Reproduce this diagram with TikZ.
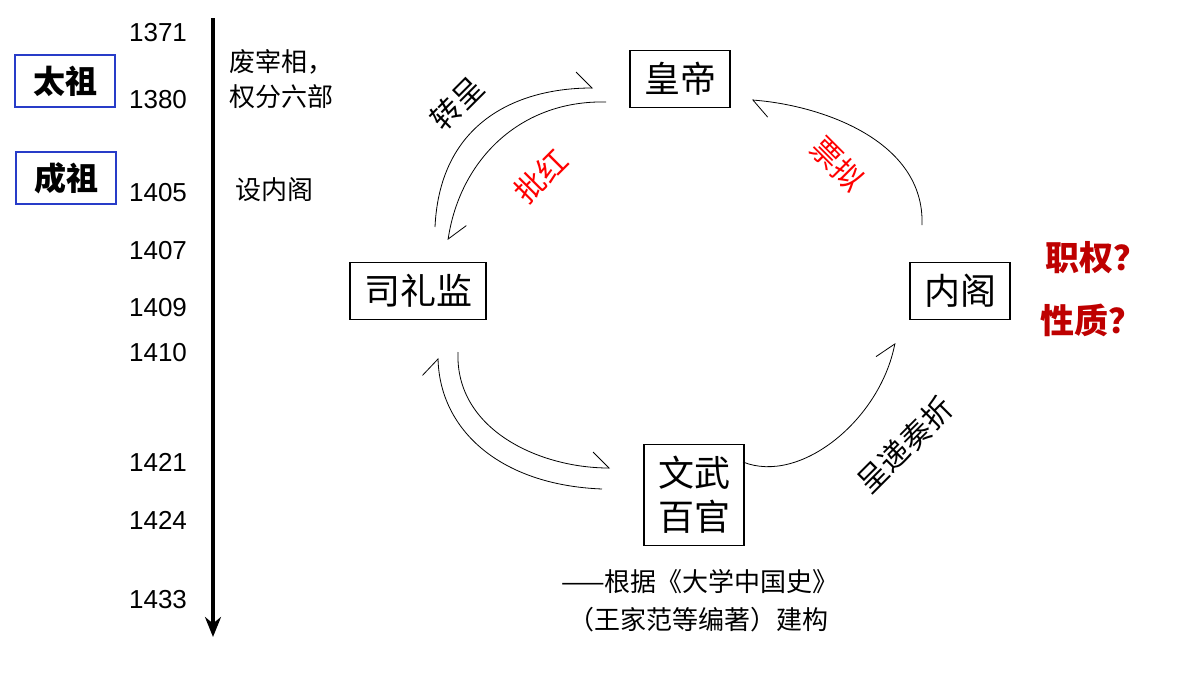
\documentclass[tikz,border=0pt]{standalone}
\usepackage{fontspec}
\setmainfont{Noto Sans CJK SC}
\newfontfamily\numfont{Liberation Sans}
\usetikzlibrary{arrows.meta}
\definecolor{boxblue}{RGB}{40,60,200}
\definecolor{askred}{RGB}{190,0,0}
\tikzset{
  year/.style={anchor=east, font=\numfont\fontsize{13}{13}\selectfont},
  note/.style={anchor=west, font=\fontsize{13}{15}\selectfont},
  ruler/.style={draw=boxblue, line width=1pt, inner sep=4pt, minimum width=50, minimum height=26, font=\bfseries\fontsize{16}{16}\selectfont},
  office/.style={draw, line width=0.6pt, inner xsep=7pt, inner ysep=6pt, font=\fontsize{18}{22}\selectfont, align=center},
  flow/.style={line width=0.4pt, -{Straight Barb[harpoon,length=8pt,width=16pt]}},
  flowr/.style={line width=0.4pt, -{Straight Barb[harpoon,swap,length=8pt,width=16pt]}},
  tag/.style={font=\fontsize{15}{15}\selectfont}
}
\begin{document}
\begin{tikzpicture}[x=0.5pt,y=-0.5pt]
    \useasboundingbox (0,0) rectangle (1200,675);

    % timeline
    \coordinate (top) at (213,18);
    \coordinate (bot) at (213,637);
    \draw[line width=2pt, -{Stealth[length=10pt,width=8pt]}] (top) -- (bot);
    \foreach \yr/\yy in {1371/33, 1380/100, 1405/193, 1407/251, 1409/308, 1410/353, 1421/462, 1424/520, 1433/600}
        \node[year] (y\yr) at (194,\yy) {\yr};

    \node[ruler] (taizu) at (65,81) {太祖};
    \node[ruler] (chengzu) at (66,178) {成祖};
    \node[note] (fei) at (222,62) {废宰相，};
    \node[note] (quan) at (222,97) {权分六部};
    \node[note] (she) at (228,190) {设内阁};

    % offices
    \node[office] (emperor) at (680,79) {皇帝};
    \node[office] (silijian) at (418,291) {司礼监};
    \node[office] (neige) at (960,291) {内阁};
    \node[office] (officials) at (694,495) {文武\\百官};

    % flows
    \coordinate (a1) at (435,227);  \coordinate (b1) at (593,88);
    \coordinate (a2) at (606,102);  \coordinate (b2) at (448,240);
    \coordinate (a3) at (922,225);  \coordinate (b3) at (752,100);
    \coordinate (a4) at (458,352);  \coordinate (b4) at (610,468);
    \coordinate (a5) at (602,489);  \coordinate (b5) at (438,358);
    \coordinate (a6) at (743,462);  \coordinate (b6) at (895,343);
    \draw[flow] (a1) .. controls (440,120) and (520,88) .. (b1);
    \draw[flow] (a2) .. controls (520,100) and (460,160) .. (b2);
    \draw[flow] (a3) .. controls (925,140) and (820,105) .. (b3);
    \draw[flow] (a4) .. controls (455,430) and (540,468) .. (b4);
    \draw[flow] (a5) .. controls (500,485) and (440,430) .. (b5);
    \draw[flow] (a6) .. controls (800,485) and (880,420) .. (b6);

    \node[tag, rotate=45] (zhuan) at (457,103) {转呈};
    \node[tag, rotate=45, red] (pi) at (541,176) {批红};
    \node[tag, rotate=-45, red] (piao) at (838,164) {票拟};
    \node[tag, rotate=45] (cheng) at (905,445) {呈递奏折};

    \node[anchor=west, askred, font=\bfseries\fontsize{17}{17}\selectfont] (zhi) at (1038,258) {职权？};
    \node[anchor=west, askred, font=\bfseries\fontsize{17}{17}\selectfont] (xing) at (1033,320) {性质？};

    \node[font=\fontsize{13}{13}\selectfont] (src1) at (700,582) {——根据《大学中国史》};
    \node[font=\fontsize{13}{13}\selectfont] (src2) at (698,620) {（王家范等编著）建构};
\end{tikzpicture}
\end{document}
